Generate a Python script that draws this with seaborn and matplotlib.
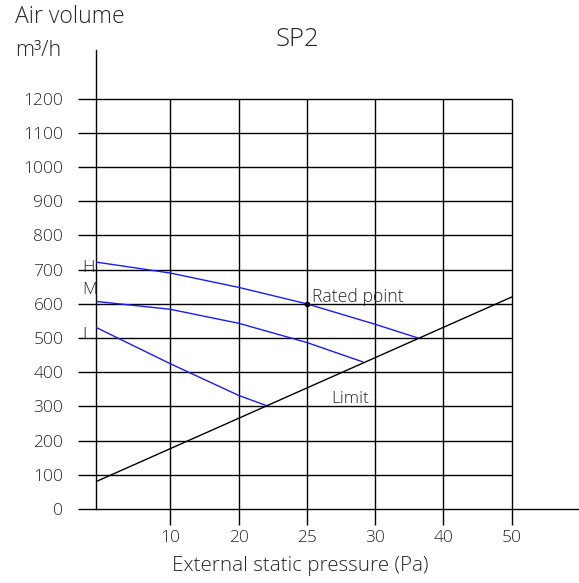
import numpy as np
import pandas as pd
import matplotlib
matplotlib.use("Agg")
import matplotlib.pyplot as plt
import seaborn as sns

# Tick labels on the x axis (spaced evenly on the sheet, not linear in Pa)
tick_pa = [0, 10, 20, 25, 30, 40, 50]
tick_labels = ["10", "20", "25", "30", "40", "50"]
y_ticks = list(range(0, 1300, 100))

# Fan curves (Pa, m3/h)
h_pa = [0, 10, 20, 25, 30, 36.3]
h_vol = [722, 690, 648, 600, 540, 500]
m_pa = [0, 10, 20, 25, 29.1]
m_vol = [607, 584, 543, 487, 430]
l_pa = [0, 10, 20, 22]
l_vol = [531, 425, 332, 303]
limit_pa = [0, 50]
limit_vol = [80, 620]
rated_pa, rated_vol = 25, 600

# where each labelled tick sits along the axis
tick_pos = np.array([0, 1.07, 2.06, 3.04, 4.03, 5.01, 6.0])


def to_pos(pa):
    return np.interp(pa, tick_pa, tick_pos)


curves = pd.concat([
    pd.DataFrame({"pos": to_pos(h_pa), "vol": h_vol, "speed": "H"}),
    pd.DataFrame({"pos": to_pos(m_pa), "vol": m_vol, "speed": "M"}),
    pd.DataFrame({"pos": to_pos(l_pa), "vol": l_vol, "speed": "L"}),
])
limit = pd.DataFrame({"pos": to_pos(limit_pa), "vol": limit_vol})

sns.set_style("white")
plt.rcParams["font.family"] = ["Open Sans", "DejaVu Sans"]
plt.rcParams["font.weight"] = "light"
plt.rcParams["axes.labelweight"] = "light"

fig = plt.figure(figsize=(5.79, 5.83), dpi=100)
ax = fig.add_axes([96 / 579, 1 - 509 / 583, 1 - 96 / 579, 459 / 583])

ax.set_xlim(0, 483 / 69.3)
ax.set_ylim(0, 1000 * 459 / 342)

# grid only spans the labelled area
ax.hlines(y_ticks[1:], 0, tick_pos[-1], color="black", lw=1, zorder=1)
ax.vlines(tick_pos[1:], 0, 1200, color="black", lw=1, zorder=1)

sns.lineplot(data=curves, x="pos", y="vol", units="speed", estimator=None,
             color="#1a1aff", lw=1, sort=False, ax=ax, zorder=3)
sns.lineplot(data=limit, x="pos", y="vol", color="black", lw=1, ax=ax, zorder=3)
ax.plot(to_pos(rated_pa), rated_vol, "o", color="black", ms=3, zorder=4)

ax.set_xticks(tick_pos[1:])
ax.set_xticklabels(tick_labels)
ax.set_yticks(y_ticks)
ax.tick_params(axis="x", direction="out", length=11.5, width=1, pad=3.5,
               labelsize=12.5, color="black", bottom=True)
ax.tick_params(axis="y", direction="out", length=13, width=1, pad=10.5,
               labelsize=12.5, color="black", left=True)

for s in ["top", "right"]:
    ax.spines[s].set_visible(False)
for s in ["left", "bottom"]:
    ax.spines[s].set_color("black")
    ax.spines[s].set_linewidth(1)

ax.text(-0.115, 706, "H", fontsize=12.5, ha="center", va="center", clip_on=False)
ax.text(-0.09, 639, "M", fontsize=12.5, ha="center", va="center", clip_on=False)
ax.text(-0.14, 508, "L", fontsize=12.5, ha="center", va="center", clip_on=False)
ax.text(3.12, 619, "Rated point", fontsize=12.7, ha="left", va="center")
ax.text(3.39, 322, "Limit", fontsize=12.5, ha="left", va="center")

ax.set_ylabel("")
ax.set_xlabel("External static pressure (Pa)", fontsize=14.8,
              fontweight="light")
ax.xaxis.set_label_coords(0.422, -0.103)

fig.text(15 / 579, 1 - 23 / 583, "Air volume", fontsize=16.5,
         ha="left", va="baseline")
fig.text(15 / 579, 1 - 56 / 583, "m³/h", fontsize=15.5,
         ha="left", va="baseline")
fig.text(0.513, 0.932, "SP2", fontsize=18.5, ha="center", va="center")

fig.savefig("out.png", dpi=100)
